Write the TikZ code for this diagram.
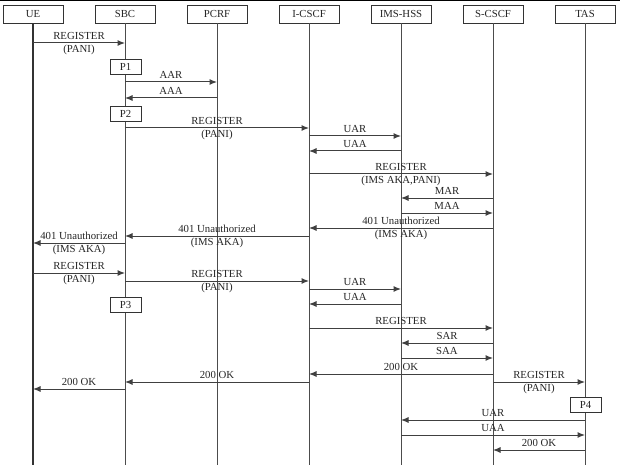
\documentclass[tikz,border=0pt]{standalone}
\usepackage{fontspec}
\setmainfont{Liberation Serif}
\usetikzlibrary{arrows.meta}
\newcommand\msgone[4]{\draw[msg] (#1 |- 0,#3) -- (#2 |- 0,#3) node[lab, midway, above=3bp]{#4};}
\newcommand\msgtwo[5]{\draw[msg] (#1 |- 0,#3) -- (#2 |- 0,#3) node[lab, midway, above=3bp]{#4} node[lab, midway, below=2bp]{#5};}
\begin{document}
\begin{tikzpicture}[x=1bp,y=-1bp,
  every node/.style={font=\fontsize{10.8}{12}\selectfont, text=black!85},
  head/.style={draw=black!80, line width=0.9pt, fill=white, minimum width=60bp, minimum height=18bp, inner sep=0pt},
  pbox/.style={draw=black!80, line width=0.8pt, fill=white, minimum width=31bp, minimum height=15bp, inner sep=0pt},
  life/.style={draw=black!70, line width=0.9pt},
  msg/.style={draw=black!75, line width=1pt, -{Latex[length=7.5bp,width=6bp]}},
  lab/.style={inner sep=0pt}]
\useasboundingbox (0,0) rectangle (620,474);
\fill[white] (0,0) rectangle (620,474);
\draw[black, line width=1pt] (0,0.5) -- (620,0.5);
% headers
\node[head] (hUE) at (33,14) {UE};
\node[head] (hSBC) at (125,14) {SBC};
\node[head] (hPCRF) at (217,14) {PCRF};
\node[head] (hICSCF) at (309,14) {I-CSCF};
\node[head] (hHSS) at (401,14) {IMS-HSS};
\node[head] (hSCSCF) at (493,14) {S-CSCF};
\node[head] (hTAS) at (585,14) {TAS};
% lifeline ends
\coordinate (eUE) at (33,465);
\coordinate (eSBC) at (125,465);
\coordinate (ePCRF) at (217,465);
\coordinate (eICSCF) at (309,465);
\coordinate (eHSS) at (401,465);
\coordinate (eSCSCF) at (493,465);
\coordinate (eTAS) at (585,465);
\draw[life, line width=1.1pt, draw=black!80] (hUE.south) -- (eUE);
\draw[life] (hSBC.south) -- (eSBC);
\draw[life] (hPCRF.south) -- (ePCRF);
\draw[life] (hICSCF.south) -- (eICSCF);
\draw[life] (hHSS.south) -- (eHSS);
\draw[life] (hSCSCF.south) -- (eSCSCF);
\draw[life] (hTAS.south) -- (eTAS);
% messages
\msgtwo{hUE}{hSBC}{43}{REGISTER}{(PANI)}
\node[pbox] (P1) at (125.5,67) {P1};
\msgone{hSBC}{hPCRF}{82}{AAR}
\msgone{hPCRF}{hSBC}{98}{AAA}
\node[pbox] (P2) at (125.5,113.5) {P2};
\msgtwo{hSBC}{hICSCF}{128}{REGISTER}{(PANI)}
\msgone{hICSCF}{hHSS}{136}{UAR}
\msgone{hHSS}{hICSCF}{151}{UAA}
\msgtwo{hICSCF}{hSCSCF}{174}{REGISTER}{(IMS AKA,PANI)}
\msgone{hSCSCF}{hHSS}{198}{MAR}
\msgone{hHSS}{hSCSCF}{213}{MAA}
\msgtwo{hSCSCF}{hICSCF}{228}{401 Unauthorized}{(IMS AKA)}
\msgtwo{hICSCF}{hSBC}{236}{401 Unauthorized}{(IMS AKA)}
\msgtwo{hSBC}{hUE}{243}{401 Unauthorized}{(IMS AKA)}
\msgtwo{hUE}{hSBC}{273}{REGISTER}{(PANI)}
\msgtwo{hSBC}{hICSCF}{281}{REGISTER}{(PANI)}
\msgone{hICSCF}{hHSS}{289}{UAR}
\msgone{hHSS}{hICSCF}{304}{UAA}
\node[pbox] (P3) at (125.5,304.5) {P3};
\msgone{hICSCF}{hSCSCF}{328}{REGISTER}
\msgone{hSCSCF}{hHSS}{343}{SAR}
\msgone{hHSS}{hSCSCF}{358}{SAA}
\msgone{hSCSCF}{hICSCF}{374}{200 OK}
\msgtwo{hSCSCF}{hTAS}{382}{REGISTER}{(PANI)}
\msgone{hICSCF}{hSBC}{382}{200 OK}
\msgone{hSBC}{hUE}{389}{200 OK}
\node[pbox] (P4) at (585.5,404.5) {P4};
\msgone{hTAS}{hHSS}{420}{UAR}
\msgone{hHSS}{hTAS}{435}{UAA}
\msgone{hTAS}{hSCSCF}{450}{200 OK}
\end{tikzpicture}
\end{document}
